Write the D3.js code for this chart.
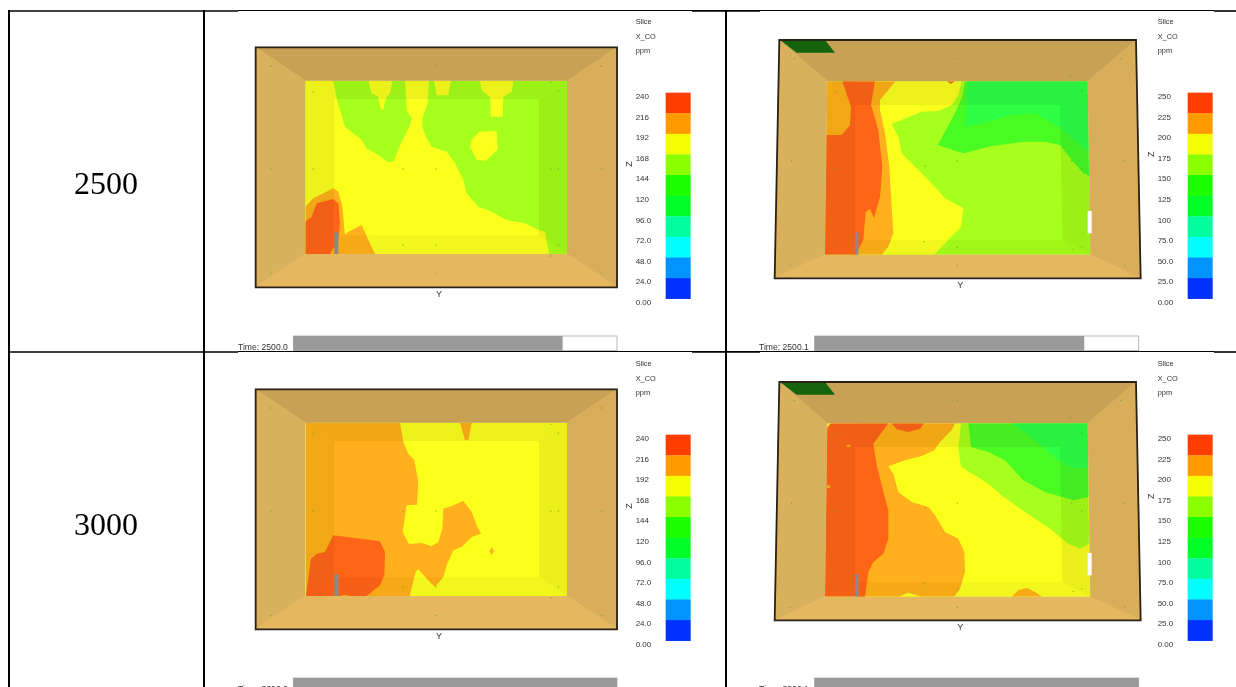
<!DOCTYPE html>
<html>
<head>
<meta charset="utf-8">
<script src="https://cdnjs.cloudflare.com/ajax/libs/d3/7.8.5/d3.min.js"></script>
<style>
html,body{margin:0;padding:0;background:#fff;overflow:hidden}
svg{display:block}
</style>
</head>
<body>
<svg id="chart" width="1236" height="687"></svg>
<script>
// ---------- data ----------
const rowLabels = ["2500", "3000"];
const timeLabels = ["Time: 2500.0", "Time: 2500.1", "Time: 3000.0", "Time: 3000.1"];
const timeFractions = [0.832, 0.832, 1, 1];
const headerLines = ["Slice", "X_CO", "ppm"];
const ticksFds1 = ["240","216","192","168","144","120","96.0","72.0","48.0","24.0","0.00"];
const ticksFds2 = ["250","225","200","175","150","125","100","75.0","50.0","25.0","0.00"];
const bandColors = ["#ff3c00","#ff9b00","#f4ff00","#8cff00","#1cff00","#00ff25","#00ff9c","#00ffff","#0094ff","#0032ff"];

// shades used for the contour fills of the slice
const RED="#ff6518", ORANGE="#ffb01a", YELLOW="#faff1e", LIME="#a6ff1a", GREEN="#48fb22", SPRING="#2dff45";

// contour regions, in slice grid units (painted in order)
const regionsA = [
 [YELLOW,[[301,212],[385,212],[395,265],[405,300],[420,350],[445,370],[470,390],[485,415],[520,435],[550,457],[565,455],[590,395],[615,345],[620,325],[605,300],[600,212],[672,212],[668,280],[652,325],[652,350],[665,385],[680,410],[725,425],[750,460],[775,510],[785,550],[820,590],[850,600],[905,630],[960,640],[1000,660],[1020,665],[1032,732],[301,732]]],
 [YELLOW,[[490,212],[563,212],[555,250],[542,265],[535,300],[527,295],[518,258],[500,250]]],
 [YELLOW,[[687,212],[738,212],[730,256],[695,256]]],
 [YELLOW,[[825,212],[926,212],[920,245],[895,262],[893,320],[858,320],[855,262],[830,240]]],
 [YELLOW,[[822,365],[875,362],[878,420],[842,452],[815,450],[795,410],[800,390]]],
 [ORANGE,[[301,590],[325,565],[385,535],[400,545],[412,590],[420,675],[430,665],[470,645],[490,690],[510,732],[301,732]]],
 [RED,[[301,635],[320,620],[335,580],[385,567],[400,580],[405,640],[400,690],[375,732],[301,732]]]
];
const regionsB = [
 [GREEN,[[720,214],[1088,214],[1092,497],[1075,490],[1040,450],[1005,405],[960,395],[900,395],[800,408],[715,430],[638,405],[660,365],[690,310],[712,260]]],
 [SPRING,[[730,214],[1088,214],[1091,425],[1040,385],[1000,350],[930,310],[860,315],[770,340],[720,352]]],
 [YELLOW,[[400,214],[710,214],[700,255],[680,285],[645,302],[590,305],[500,342],[520,380],[530,430],[575,475],[630,530],[660,565],[715,595],[708,650],[670,690],[627,734],[400,734]]],
 [ORANGE,[[300,214],[511,214],[490,240],[465,270],[465,300],[480,370],[493,470],[500,590],[505,670],[490,710],[470,734],[300,734]]],
 [RED,[[352,214],[450,214],[438,285],[460,360],[472,470],[465,560],[447,625],[435,597],[422,605],[415,690],[392,734],[298,734],[302,375],[350,375],[375,345],[378,290]]],
 [RED,[[665,214],[690,214],[678,222]]]
];
const regionsC = [
 [ORANGE,[[303,212],[585,212],[595,270],[610,305],[628,325],[640,390],[636,458],[605,460],[593,540],[612,576],[650,573],[680,583],[700,570],[712,530],[715,470],[740,462],[775,447],[800,480],[815,520],[828,545],[800,555],[770,585],[745,595],[725,640],[715,675],[690,705],[665,680],[640,652],[632,660],[614,732],[303,732]]],
 [ORANGE,[[765,212],[800,212],[790,265],[780,265]]],
 [ORANGE,[[860,585],[867,598],[860,608],[853,598]]],
 [RED,[[303,732],[318,620],[335,605],[360,600],[385,550],[525,568],[540,600],[538,670],[525,700],[485,732],[435,732],[420,728],[405,732]]]
];
const regionsD = [
 [LIME,[[708,214],[1088,214],[1092,575],[1065,590],[1030,575],[975,530],[900,480],[830,430],[790,395],[750,370],[708,345],[700,290]]],
 [GREEN,[[730,214],[1088,214],[1091,435],[1045,445],[960,420],[895,385],[840,325],[790,300],[738,285]]],
 [SPRING,[[860,214],[1088,214],[1090,348],[1040,348],[1000,325],[960,290],[910,250]]],
 [ORANGE,[[400,214],[690,214],[680,235],[645,270],[628,295],[590,312],[540,325],[490,343],[505,365],[520,420],[560,450],[610,465],[630,490],[660,540],[700,560],[718,600],[720,660],[705,710],[688,734],[400,734]]],
 [YELLOW,[[520,734],[550,722],[590,734]]],
 [ORANGE,[[860,734],[880,715],[905,708],[930,720],[952,734]]],
 [RED,[[298,734],[303,230],[318,214],[490,214],[445,275],[455,340],[470,400],[490,475],[490,560],[475,605],[445,630],[430,660],[420,734]]],
 [RED,[[500,214],[597,214],[585,230],[550,240],[515,232]]],
 [ORANGE,[[365,278],[376,278],[376,285],[365,285]]],
 [ORANGE,[[304,400],[316,400],[316,408],[304,408]]]
];

// sensors on the walls
const sensorsA = [[198,168],[693,168],[1188,168],[197,477],[1190,477],[198,790],[693,790],[1190,790],[325,245],[1037,217],[1060,243],[325,477],[594,477],[693,477],[1037,477],[1060,477],[594,705],[693,705],[1060,705],[1037,738]];
const sensorsB = [[208,146],[697,146],[1188,146],[200,453],[1197,453],[196,766],[697,766],[1200,766],[330,245],[1037,197],[1070,243],[330,477],[600,468],[697,453],[1040,453],[1070,477],[598,695],[697,712],[1070,710],[1045,718]];

// ---------- geometry ----------
const panelBoxes = [
 {x:205,y:10, w:520,h:345}, {x:725,y:10, w:511,h:345},
 {x:205,y:352,w:520,h:345}, {x:725,y:352,w:511,h:345}
];
const shapeA = {
 outer:[[152,112],[1236,112],[1236,832],[152,832]],
 slice:[[301,212],[1086,212],[1086,732],[301,732]],
 inner:[[387,267],[1002,267],[1002,676],[387,676]],
 legendX:1382, tickX:1292, zX:1272, zY:462, yX:702, yY:851, barX0:265, barX1:1236, timeX:99, grayX0:388, grayX1:400, grayY0:667, grayY1:732
};
const shapeB = {
 outer:[[163,90],[1233,90],[1247,805],[149,805]],
 slice:[[307,214],[1088,214],[1096,734],[300,734]],
 inner:[[390,285],[1005,285],[1012,690],[390,690]],
 legendX:1388, tickX:1298, zX:1278, zY:433, yX:706, yY:825, barX0:269, barX1:1241, timeX:102, grayX0:390, grayX1:400, grayY0:667, grayY1:734,
 patch:[[165,90],[300,90],[330,128],[215,128]],
 sliver:[[1088,603],[1100,603],[1100,670],[1088,670]]
};
const panels = [
 {shape:shapeA, base:LIME,   regions:regionsA, ticks:ticksFds1, sensors:sensorsA},
 {shape:shapeB, base:LIME,   regions:regionsB, ticks:ticksFds2, sensors:sensorsB},
 {shape:shapeA, base:YELLOW, regions:regionsC, ticks:ticksFds1, sensors:sensorsA},
 {shape:shapeB, base:YELLOW, regions:regionsD, ticks:ticksFds2, sensors:sensorsB}
];

// ---------- draw ----------
const svg = d3.select("#chart");
const defs = svg.append("defs");
defs.append("filter").attr("id","soft").attr("x","-5%").attr("y","-5%").attr("width","110%").attr("height","110%")
  .append("feGaussianBlur").attr("stdDeviation",0.55);
defs.append("filter").attr("id","softText").attr("x","-20%").attr("y","-20%").attr("width","140%").attr("height","140%")
  .append("feGaussianBlur").attr("stdDeviation",0.3);

const SANS = "'Liberation Sans', Arial, sans-serif";
const line = d3.line();

panels.forEach((p, i) => {
  const box = panelBoxes[i], s = p.shape;
  const gx = d3.scaleLinear().domain([0, box.w*3]).range([box.x, box.x+box.w]);
  const gy = d3.scaleLinear().domain([0, box.h*3]).range([box.y, box.y+box.h]);
  const path = pts => line(pts.map(d => [gx(d[0]), gy(d[1])])) + "Z";
  const clipId = "clip"+i;
  defs.append("clipPath").attr("id",clipId).append("path").attr("d",path(s.slice));

  const g = svg.append("g").attr("filter","url(#soft)");
  const [oTL,oTR,oBR,oBL] = s.outer, [sTL,sTR,sBR,sBL] = s.slice, [iTL,iTR,iBR,iBL] = s.inner;

  // walls (stroked in their own colour so that no seam shows)
  const walls = [
    {c:"#c8a154",pts:[oTL,oTR,sTR,sTL]},
    {c:"#d9b05c",pts:[oTL,sTL,sBL,oBL]},
    {c:"#d9ae5a",pts:[oTR,oBR,sBR,sTR]},
    {c:"#e5b75e",pts:[oBL,sBL,sBR,oBR]}
  ];
  g.selectAll(".wall").data(walls).join("path").attr("class","wall")
    .attr("d",d=>path(d.pts)).attr("fill",d=>d.c).attr("stroke",d=>d.c).attr("stroke-width",0.7);
  if (s.patch) g.append("path").attr("d",path(s.patch)).attr("fill","#15640f");

  // contour slice
  const sliceG = g.append("g").attr("clip-path",`url(#${clipId})`);
  sliceG.append("path").attr("d",path(s.slice)).attr("fill",p.base);
  sliceG.selectAll(".region").data(p.regions).join("path").attr("class","region")
    .attr("d",d=>path(d[1])).attr("fill",d=>d[0]);

  // shaded band around the back part of the slice
  const bands = [[sTL,sTR,iTR,iTL],[sTR,sBR,iBR,iTR],[sBR,sBL,iBL,iBR],[sBL,sTL,iTL,iBL]];
  const bandShade = [0.055,0.06,0.035,0.05];
  sliceG.selectAll(".band").data(bands).join("path").attr("class","band")
    .attr("d",path).attr("fill","#000").attr("fill-opacity",(d,k)=>bandShade[k]);

  // burner and vent
  g.append("rect").attr("x",gx(s.grayX0)).attr("width",gx(s.grayX1)-gx(s.grayX0))
    .attr("y",gy(s.grayY0)).attr("height",gy(s.grayY1)-gy(s.grayY0)).attr("fill","#8a8a8a");
  if (s.sliver) g.append("path").attr("d",path(s.sliver)).attr("fill","#fff");

  // sensors
  g.selectAll(".sensor").data(p.sensors).join("circle").attr("class","sensor")
    .attr("cx",d=>gx(d[0])).attr("cy",d=>gy(d[1])).attr("r",0.7).attr("fill","#58a020").attr("fill-opacity",0.7);

  // room outline
  g.append("path").attr("d",path(s.outer)).attr("fill","none").attr("stroke","#2a2118").attr("stroke-width",1.8);

  // colour legend
  const bandY = d3.scaleBand().domain(d3.range(bandColors.length))
    .range([gy(248), gy(866)]);
  g.selectAll(".legend").data(bandColors).join("rect").attr("class","legend")
    .attr("x",gx(s.legendX)).attr("width",25)
    .attr("y",(d,k)=>bandY(k)).attr("height",bandY.bandwidth()+0.3).attr("fill",d=>d);

  // progress bar
  const barX = d3.scaleLinear().domain([0,1]).range([gx(s.barX0), gx(s.barX1)]);
  g.append("rect").attr("x",barX(0)).attr("y",gy(978)).attr("width",barX(1)-barX(0)).attr("height",gy(1022)-gy(978))
    .attr("fill","#fff").attr("stroke","#a8a8a8").attr("stroke-width",0.8);
  g.append("rect").attr("x",barX(0)).attr("y",gy(978)).attr("width",barX(timeFractions[i])-barX(0)).attr("height",gy(1022)-gy(978))
    .attr("fill","#9a9a9a");

  // text
  const t = svg.append("g").attr("font-family",SANS).attr("fill","#333").attr("filter","url(#softText)");
  t.selectAll(".hdr").data(headerLines).join("text").attr("class","hdr")
    .attr("x",gx(s.tickX)).attr("y",(d,k)=>gy(42+k*43.5)).attr("font-size",7.4).text(d=>d);
  const tickY = d3.scalePoint().domain(p.ticks).range([gy(267), gy(885)]);
  t.selectAll(".tick").data(p.ticks).join("text").attr("class","tick")
    .attr("x",gx(s.tickX)).attr("y",d=>tickY(d)).attr("font-size",8).text(d=>d);
  t.append("text").attr("x",gx(s.yX)).attr("y",gy(s.yY+10)).attr("text-anchor","middle").attr("font-size",9).text("Y");
  t.append("text").attr("transform",`translate(${gx(s.zX+9)},${gy(s.zY)}) rotate(-90)`).attr("text-anchor","middle").attr("font-size",9).text("Z");
  t.append("text").attr("x",gx(s.timeX)).attr("y",gy(1021)).attr("font-size",8.6).text(timeLabels[i]);
});

// table rules
const rules = svg.append("g").attr("stroke","#000");
const colX = [9, 204, 726];
const rowY = [11, 352];
rules.selectAll(".v").data(colX).join("line").attr("class","v")
  .attr("x1",d=>d).attr("x2",d=>d).attr("y1",rowY[0]-1).attr("y2",687).attr("stroke-width",2);
rowY.forEach(y => {
  const thick = [[9,238],[692,760],[1214,1236]];
  rules.selectAll(null).data(thick).join("line")
    .attr("x1",d=>d[0]).attr("x2",d=>d[1]).attr("y1",y).attr("y2",y).attr("stroke-width",1.6);
  rules.append("line").attr("x1",238).attr("x2",1214).attr("y1",y-0.5).attr("y2",y-0.5).attr("stroke-width",1);
});

// row labels
svg.selectAll(".row").data(rowLabels).join("text").attr("class","row")
  .attr("x",106).attr("y",(d,k)=>rowY[k]+183).attr("text-anchor","middle")
  .attr("font-family","'Liberation Serif','Times New Roman',serif").attr("font-size",32).attr("fill","#000").text(d=>d);
</script>
</body>
</html>
